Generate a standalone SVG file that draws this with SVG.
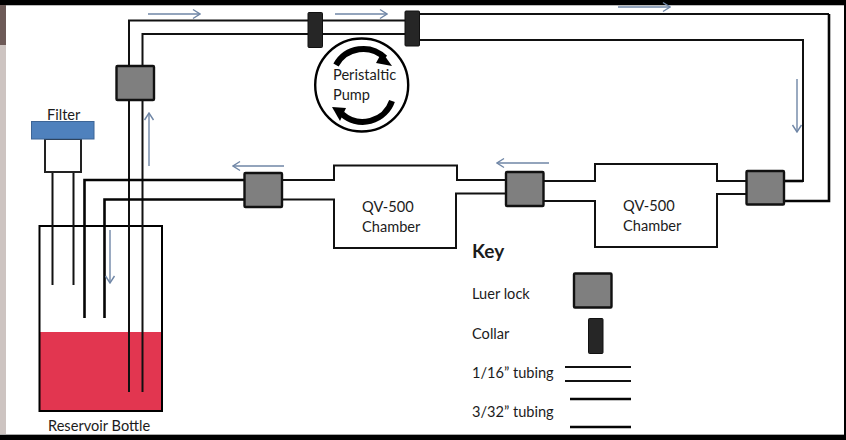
<svg xmlns="http://www.w3.org/2000/svg" width="846" height="440" viewBox="0 0 846 440">
<style>
text{font-family:"Lato","Liberation Sans",sans-serif;font-size:14.6px;fill:#1c1c1c}
.t{fill:none;stroke:#111;stroke-width:2}
.w{fill:none;stroke:#050505;stroke-width:2.6}
.a{fill:none;stroke:#6f86a6;stroke-width:1.4}
.l{fill:#7f7f7f;stroke:#111;stroke-width:2.4}
.c{fill:#262626;stroke:#111;stroke-width:1}
.p{fill:none;stroke:#000;stroke-width:6}
</style>
<defs>
<marker id="h" viewBox="0 0 10 12" refX="9" refY="6" markerWidth="10" markerHeight="12" markerUnits="userSpaceOnUse" orient="auto"><path d="M2 1.500L9 6L2 10.500" fill="none" stroke="#6f86a6" stroke-width="1.400"/></marker>
</defs>
<rect width="846" height="440" fill="#000"/>
<rect x="0" y="5" width="844" height="429" fill="#fff"/>
<rect x="6" y="5" width="838" height="1" fill="#bbb"/>
<rect x="0" y="5" width="6" height="40" fill="#6d5a57"/>
<rect x="0" y="45" width="6" height="389" fill="#cdc4c1"/>
<rect x="0" y="434" width="844" height="1" fill="#aaa"/>
<g id="bottle">
<rect x="40" y="332" width="122" height="79" fill="#e23650"/>
<rect x="39.500" y="226" width="122.500" height="185" fill="none" stroke="#000" stroke-width="2"/>
</g>
<g id="connectors">
<path class="t" d="M129 392V20.500H405M142.500 392V34H405"/>
<path class="t" d="M52.500 172V285M73.500 172V285"/>
<path class="t" d="M419 14H829M419 40H803V181H784"/>
<path class="w" d="M829 14V201H784"/>
<path class="w" d="M784 181H803"/>
<path class="t" d="M746 181H717V164H595V181H543M746 194H717V247H595V201H543"/>
<path class="t" d="M506 180H457V165.500H334V180H282M506 193.500H456V248H334V199.500H282"/>
<path class="w" d="M244 180H84.500V318M244 199.500H104.500V318"/>
</g>
<g id="arrows">
<path class="a" marker-end="url(#h)" d="M148 14H200"/>
<path class="a" marker-end="url(#h)" d="M335 14H387"/>
<path class="a" marker-end="url(#h)" d="M618 7H670"/>
<path class="a" marker-end="url(#h)" d="M797 79V132"/>
<path class="a" marker-end="url(#h)" d="M549 163H497"/>
<path class="a" marker-end="url(#h)" d="M284 166H233"/>
<path class="a" marker-end="url(#h)" d="M149 166V113"/>
<path class="a" marker-end="url(#h)" d="M110 230V283"/>
</g>
<g id="luer-top"><rect class="l" x="116.500" y="66" width="37.500" height="34" rx="1"/></g>
<g id="luer-left"><rect class="l" x="244.500" y="173" width="37.500" height="34" rx="1"/></g>
<g id="luer-middle"><rect class="l" x="506" y="172" width="37.500" height="34" rx="1"/></g>
<g id="luer-right"><rect class="l" x="746.500" y="171" width="37.500" height="33.500" rx="1"/></g>
<g id="collar-1"><rect class="c" x="308" y="12.500" width="14.500" height="35" rx="1"/></g>
<g id="collar-2"><rect class="c" x="405" y="11" width="14.500" height="35" rx="1"/></g>
<g id="filter">
<rect x="45" y="139" width="36" height="33" fill="#fff" stroke="#222" stroke-width="2"/>
<rect x="31.500" y="121.500" width="62.500" height="17.500" fill="#4f81bd" stroke="#3d6596" stroke-width="1"/>
<text x="47" y="120">Filter</text>
</g>
<g id="pump">
<circle cx="361.700" cy="85" r="46.500" fill="#fff" stroke="#000" stroke-width="2.400"/>
<path class="p" d="M336 65A31 31 0 0 1 385 58"/>
<path d="M382 52L392 66L376 63Z"/>
<path class="p" d="M392 101A31 31 0 0 1 342 114"/>
<path d="M346 108L332 107L340 121Z"/>
<text x="333" y="80">Peristaltic</text>
<text x="333" y="100">Pump</text>
</g>
<g id="chamber-left"><text x="362" y="212">QV-500</text><text x="362" y="232">Chamber</text></g>
<g id="chamber-right"><text x="623" y="211">QV-500</text><text x="623" y="231">Chamber</text></g>
<g id="reservoir-label"><text x="48" y="431">Reservoir Bottle</text></g>
<g id="key">
<text x="472" y="258" style="font-size:19px;font-weight:700">Key</text>
<text x="472" y="299">Luer lock</text>
<text x="472" y="339">Collar</text>
<text x="472" y="378">1/16” tubing</text>
<text x="472" y="417">3/32” tubing</text>
<rect class="l" x="574" y="273.500" width="37.500" height="34" rx="1"/>
<rect class="c" x="588.500" y="318.500" width="14.500" height="35" rx="1"/>
<path class="t" d="M565 367H631M565 381H631"/>
<path class="w" d="M570 399H631M570 427H631"/>
</g>
</svg>
